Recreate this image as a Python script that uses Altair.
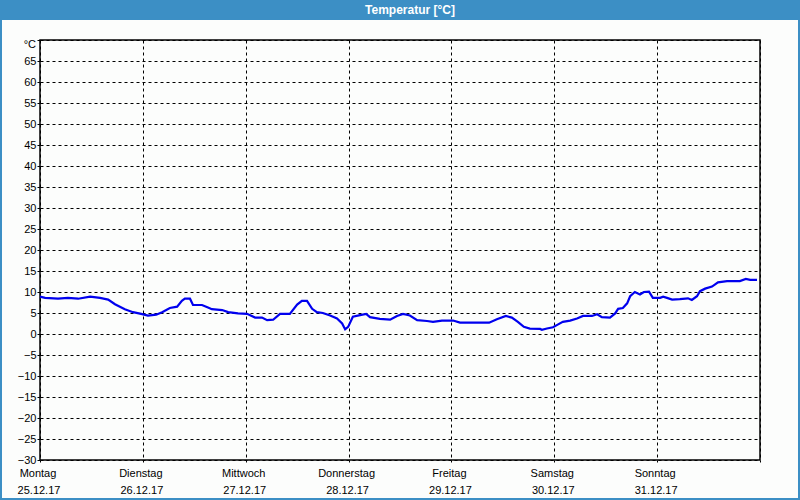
import altair as alt
import pandas as pd

# hours since Monday 25.12.17 00:00
HOURS = [0, 1.2, 4.2, 6.5, 8.9, 11.7, 14.0, 15.9, 17.5, 19.8, 21.7, 23.6, 25.2, 27.1, 28.5,
         30.3, 32.0, 33.1, 33.8, 35.0, 35.7, 37.8, 39.2, 40.1, 42.5, 43.9, 46.2, 48.3, 50.2,
         51.8, 53.0, 54.4, 56.0, 58.3, 60.0, 61.1, 62.3, 63.5, 64.6, 66.0, 67.7, 69.3, 70.5,
         71.2, 71.9, 73.0, 74.7, 76.1, 77.0, 79.3, 81.7, 83.3, 84.7, 86.3, 88.0, 90.3, 91.7,
         93.8, 96.4, 98.0, 101.0, 104.8, 106.6, 108.7, 110.1, 111.5, 112.9, 114.3, 116.7,
         117.1, 118.3, 119.7, 120.9, 122.0, 123.7, 125.3, 126.7, 128.8, 130.0, 131.1, 133.0,
         134.2, 134.9, 136.0, 137.0, 137.7, 138.8, 140.0, 140.9, 142.1, 143.0, 144.7, 145.4,
         146.3, 147.5, 149.3, 151.2, 152.1, 153.3, 154.0, 155.2, 156.8, 158.2, 160.3, 163.3,
         164.7, 165.7, 167.3]
TEMPS = [8.9, 8.6, 8.4, 8.6, 8.4, 8.9, 8.6, 8.2, 7.1, 5.9, 5.2, 4.8, 4.4, 4.6, 5.2,
         6.2, 6.5, 7.9, 8.4, 8.4, 6.9, 6.9, 6.3, 5.9, 5.7, 5.2, 4.9, 4.8, 3.9,
         3.9, 3.3, 3.4, 4.8, 4.8, 7.0, 7.9, 7.9, 6.0, 5.2, 5.0, 4.4, 3.7, 2.5,
         1.1, 1.7, 4.1, 4.5, 4.8, 4.0, 3.6, 3.4, 4.3, 4.8, 4.4, 3.3, 3.1, 2.9,
         3.2, 3.2, 2.7, 2.7, 2.7, 3.5, 4.3, 3.9, 2.9, 1.7, 1.3, 1.2,
         1.0, 1.3, 1.6, 2.3, 2.9, 3.2, 3.7, 4.3, 4.3, 4.7, 4.0, 3.9,
         4.9, 6.0, 6.2, 7.3, 9.0, 10.0, 9.4, 10.0, 10.1, 8.6, 8.6, 8.9,
         8.6, 8.2, 8.3, 8.5, 8.1, 9.0, 10.2, 10.8, 11.3, 12.3, 12.6, 12.6,
         13.1, 12.9, 12.9]

DAY_HOURS = [0, 24, 48, 72, 96, 120, 144]
DAY_NAMES = ["Montag", "Dienstag", "Mittwoch", "Donnerstag", "Freitag", "Samstag", "Sonntag"]
DAY_DATES = ["25.12.17", "26.12.17", "27.12.17", "28.12.17", "29.12.17", "30.12.17", "31.12.17"]
Y_TICKS = list(range(-30, 75, 5))
Y_UNIT = "°C"
TITLE = "Temperatur [°C]"

FONT = "Liberation Sans"
df = pd.DataFrame({"h": HOURS, "t": TEMPS})
days = pd.DataFrame({"h": DAY_HOURS, "name": DAY_NAMES, "date": DAY_DATES})

xscale = alt.Scale(domain=[0, 168], nice=False, zero=False)
yscale = alt.Scale(domain=[-30, 70], nice=False, zero=False)

line = alt.Chart(df).mark_line(color="#0000ee", strokeWidth=2.2, interpolate="linear").encode(
    x=alt.X("h:Q", scale=xscale,
            axis=alt.Axis(values=DAY_HOURS + [168], labels=False, title=None, grid=True,
                          gridDash=[3, 3], gridColor="black", gridOpacity=1, gridWidth=1,
                          tickSize=4, tickColor="black", tickDash=[2, 2], domain=False)),
    y=alt.Y("t:Q", scale=yscale,
            axis=alt.Axis(values=Y_TICKS, title=None, grid=True, gridDash=[3, 3],
                          gridColor="black", gridOpacity=1, gridWidth=1,
                          tickSize=3, tickColor="black", domain=False,
                          labelExpr="datum.value == 70 ? '' : datum.label",
                          labelFont=FONT, labelFontSize=11, labelColor="black",
                          labelPadding=1)),
)

names = alt.Chart(days).mark_text(font=FONT, fontSize=11, color="black", baseline="middle",
                                  align="center", dx=-2).encode(
    x=alt.X("h:Q", scale=xscale), y=alt.value(434), text="name:N")
dates = alt.Chart(days).mark_text(font=FONT, fontSize=11, color="black", baseline="middle",
                                  align="center", dx=-1).encode(
    x=alt.X("h:Q", scale=xscale), y=alt.value(451), text="date:N")

one = alt.Data(values=[{}])
unit = alt.Chart(one).mark_text(font=FONT, fontSize=11, color="black", baseline="middle",
                                align="right").encode(
    x=alt.value(-4), y=alt.value(5), text=alt.value(Y_UNIT))
bar = alt.Chart(one).mark_rect(color="#3c8fc5").encode(
    x=alt.value(-40), x2=alt.value(760), y=alt.value(-40), y2=alt.value(-20))
frame = alt.Chart(one).mark_rect(fill=None, stroke="#3c8fc5", strokeWidth=2).encode(
    x=alt.value(-39), x2=alt.value(759), y=alt.value(-30), y2=alt.value(459))
title = alt.Chart(one).mark_text(font=FONT, fontSize=12, fontWeight="bold", color="white",
                                 baseline="middle", align="center").encode(
    x=alt.value(370), y=alt.value(-30), text=alt.value(TITLE))

chart = alt.layer(line, names, dates, unit, frame, bar, title).properties(
    width=720, height=420,
    autosize=alt.AutoSizeParams(type="none"),
    padding={"left": 40, "top": 40, "right": 40, "bottom": 40},
    background="#fcfdfc",
).configure_view(stroke="black", strokeWidth=1.5)

chart.save("out.html", embed_options={"renderer": "svg", "actions": False})
